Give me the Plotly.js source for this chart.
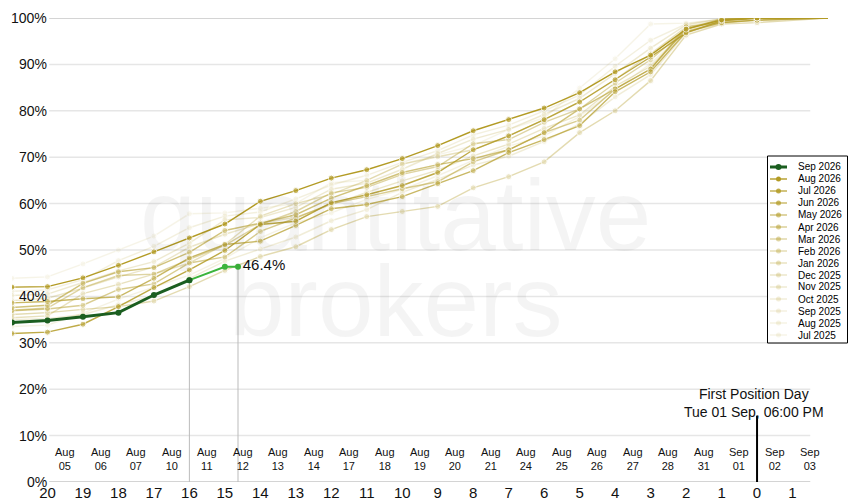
<!DOCTYPE html>
<html><head><meta charset="utf-8">
<script src="https://cdn.plot.ly/plotly-3.0.1.min.js"></script>
<style>html,body{margin:0;padding:0;background:#fff}#chart{width:850px;height:500px}</style>
</head><body><div id="chart"></div>
<script>
// ---- data ----
const days = [-21,-20,-19,-18,-17,-16,-15,-14,-13,-12,-11,-10,-9,-8,-7,-6,-5,-4,-3,-2,-1,0,2];
const tickDays = [-20,-19,-18,-17,-16,-15,-14,-13,-12,-11,-10,-9,-8,-7,-6,-5,-4,-3,-2,-1,0,1];
const tickLabels = ['20','19','18','17','16','15','14','13','12','11','10','9','8','7','6','5','4','3','2','1','0','1'];
const dateLabels = ['Aug 05','Aug 06','Aug 07','Aug 10','Aug 11','Aug 12','Aug 13','Aug 14','Aug 17','Aug 18','Aug 19',
  'Aug 20','Aug 21','Aug 24','Aug 25','Aug 26','Aug 27','Aug 28','Aug 31','Sep 01','Sep 02','Sep 03'];
const yTicks = [0,10,20,30,40,50,60,70,80,90,100];

const sep2026Days = [-21,-20,-19,-18,-17,-16];
const sep2026 = [34.4,34.8,35.6,36.5,40.3,43.5];
const liveDays = [-16,-15,-14.63];
const liveValues = [43.5,46.4,46.4];

const aug2026 = [42.0,42.1,44.0,46.7,49.6,52.6,55.6,60.5,62.8,65.5,67.3,69.7,72.5,75.7,78.1,80.6,83.9,88.4,92.0,97.6,99.6,100,100];
const jul2026 = [32.0,32.3,34.0,37.8,41.9,45.7,49.9,55.5,56.2,60.2,61.9,63.9,66.7,71.6,74.6,78.1,81.9,86.7,91.6,96.8,99.4,100,100];
const jun2026 = [38.6,38.9,39.5,39.9,43.9,48.3,51.2,51.9,55.3,58.9,59.8,61.5,64.3,67.1,71.0,73.8,76.8,84.1,88.4,97.0,99.0,99.5,100];
const may2026 = [37.6,38.1,42.8,45.3,46.2,49.5,54.2,55.8,57.6,61.2,63.9,66.7,68.4,69.7,71.6,75.3,80.4,84.7,89.0,97.6,99.8,100,100];
const apr2026 = [36.9,37.3,38.1,41.5,42.7,47.2,48.5,54.0,56.9,60.0,61.5,63.2,64.7,69.0,71.6,75.3,78.0,84.7,89.0,98.1,99.0,99.6,100];
const mar2026 = [37.0,37.5,41.9,44.5,44.8,48.0,51.0,55.5,58.3,62.3,63.5,66.3,68.0,72.9,73.8,77.5,80.4,86.0,91.0,97.6,99.5,100,100];
const feb2026 = [36.1,36.5,37.2,37.8,39.0,42.1,45.6,48.6,50.7,54.4,57.2,58.3,59.4,63.4,65.8,69.0,75.3,80.0,86.5,96.3,98.7,99.0,100];
const jan2026 = [35.4,35.8,40.6,42.6,44.8,47.2,51.2,57.3,60.0,62.0,65.0,68.5,70.1,71.6,74.6,78.1,81.9,86.7,92.3,98.1,99.5,100,100];
const dec2025 = [39.1,39.6,41.8,44.2,46.3,50.6,53.4,55.7,57.1,59.8,62.4,64.9,67.2,70.3,72.8,76.2,79.1,85.3,89.6,97.2,99.1,100,100];
const nov2025 = [40.2,40.5,43.0,45.5,47.5,51.5,56.5,57.0,59.2,63.1,64.4,67.4,70.8,73.9,76.0,79.2,82.7,88.0,93.5,98.5,99.8,100,100];
const oct2025 = [35.0,35.2,36.1,38.2,40.1,43.8,47.6,50.2,52.8,56.3,58.7,62.4,65.2,68.3,70.2,73.4,77.2,83.0,87.8,96.8,98.9,99.6,100];
const sep2025 = [41.1,41.4,43.6,47.7,50.8,54.8,57.3,58.2,61.0,64.0,66.1,68.9,71.4,74.8,76.9,80.0,83.4,89.6,95.2,98.7,99.8,100,100];
const aug2025 = [33.5,33.8,36.4,39.4,42.0,44.6,48.2,52.6,55.9,58.0,60.9,63.0,66.0,69.3,72.4,74.6,78.8,84.4,90.2,97.3,99.3,100,100];
const jul2025 = [43.9,44.2,47.0,50.0,53.0,57.8,58.0,59.0,60.0,64.5,65.0,68.5,70.5,72.5,76.0,78.5,84.9,91.2,98.7,98.9,99.8,100,100];

const seriesNames = ['Aug 2026','Jul 2026','Jun 2026','May 2026','Apr 2026','Mar 2026','Feb 2026','Jan 2026',
  'Dec 2025','Nov 2025','Oct 2025','Sep 2025','Aug 2025','Jul 2025'];
const seriesValues = [aug2026,jul2026,jun2026,may2026,apr2026,mar2026,feb2026,jan2026,dec2025,nov2025,oct2025,sep2025,aug2025,jul2025];
const currentName = 'Sep 2026';
const fpdText = 'First Position Day<br>Tue 01 Sep, 06:00 PM';

// ---- styles ----
const GOLD = '#b39b24';
const DARK = '#1b5e20';
const LIGHT = '#3cb43c';
const FONT = 'Arial, "Liberation Sans", Helvetica, sans-serif';
const opFor = i => Math.max(0.1, Math.pow(0.84, i));

// plot area in pixels (for legend placement in paper units)
const PL = 12, PR = 828, PT = 18, PB = 482;
const px2x = px => (px - PL) / (PR - PL);
const py2y = py => (PB - py) / (PB - PT);

const traces = [];
for (let i = seriesValues.length - 1; i >= 0; i--) {
  traces.push({
    x: days, y: seriesValues[i], name: seriesNames[i], type: 'scatter', mode: 'lines+markers',
    line: {color: GOLD, width: 1.4},
    marker: {color: GOLD, size: days.map(d => d > 1 ? 0 : 6)},
    opacity: opFor(i), showlegend: false, hoverinfo: 'skip'
  });
}
traces.push({
  x: liveDays, y: liveValues, type: 'scatter', mode: 'lines+markers+text',
  line: {color: LIGHT, width: 2}, marker: {color: LIGHT, size: 6},
  text: liveValues.map((v, i) => i === liveValues.length - 1 ? v.toFixed(1) + '%' : ''),
  textposition: 'middle right', textfont: {family: FONT, size: 15, color: '#111'},
  cliponaxis: false, showlegend: false, hoverinfo: 'skip'
});
traces.push({
  x: sep2026Days, y: sep2026, name: currentName, type: 'scatter', mode: 'lines+markers',
  line: {color: DARK, width: 3}, marker: {color: DARK, size: 6},
  showlegend: false, hoverinfo: 'skip'
});

const shapes = [];
const annotations = [];
// grid lines + y labels
yTicks.forEach(v => {
  const edge = (v === 0 || v === 100);
  shapes.push({type: 'line', xref: 'x', yref: 'y', x0: -19.95, x1: 1.5, y0: v, y1: v,
    line: {color: edge ? '#aaaaaa' : '#e6e6e6', width: edge ? 1.2 : 1.5}, layer: 'below'});
  annotations.push({x: -20, y: v, xref: 'x', yref: 'y', xanchor: 'right', yanchor: 'middle',
    text: v + '%', showarrow: false, xshift: 2, font: {family: FONT, size: 14, color: '#111'}});
});
// date labels
dateLabels.forEach((d, i) => {
  annotations.push({x: tickDays[i] + 0.5, y: 4.9, xref: 'x', yref: 'y', xanchor: 'center', yanchor: 'middle',
    text: d.replace(' ', '<br>'), showarrow: false, font: {family: FONT, size: 11, color: '#111'}});
});
// drop lines from last completed point and live point
const lastDoneX = sep2026Days[sep2026Days.length - 1], lastDoneY = sep2026[sep2026.length - 1];
const liveX = liveDays[liveDays.length - 1], liveY = liveValues[liveValues.length - 1];
[[lastDoneX, lastDoneY], [liveX, liveY]].forEach(([x, y]) => {
  shapes.push({type: 'line', xref: 'x', yref: 'y', x0: x, x1: x, y0: 0, y1: y,
    line: {color: '#bbbbbb', width: 1}, layer: 'below'});
});
// first position day marker
shapes.push({type: 'line', xref: 'x', yref: 'y', x0: 0, x1: 0, y0: 0, y1: 14.3,
  line: {color: '#000', width: 2}});
annotations.push({x: -0.1, y: 17.0, xref: 'x', yref: 'y', xanchor: 'center', yanchor: 'middle',
  text: fpdText, showarrow: false, align: 'center', font: {family: FONT, size: 14, color: '#111'}});
// watermark
annotations.push({x: -10.2, y: 57.5, xref: 'x', yref: 'y', text: 'quantitative', showarrow: false,
  font: {family: FONT, size: 100, color: 'rgba(0,0,0,0.045)'}});
annotations.push({x: -10.2, y: 39.0, xref: 'x', yref: 'y', text: 'brokers', showarrow: false,
  font: {family: FONT, size: 100, color: 'rgba(0,0,0,0.045)'}});

// manual legend
const legendNames = [currentName].concat(seriesNames);
shapes.push({type: 'rect', xref: 'paper', yref: 'paper', x0: px2x(767.5), x1: px2x(847.5), y0: py2y(156), y1: py2y(343),
  line: {color: '#000', width: 1}, fillcolor: '#fff', layer: 'above'});
legendNames.forEach((n, k) => {
  const py = 167 + 12 * k;
  const cur = k === 0;
  const col = cur ? DARK : GOLD;
  const op = cur ? 1 : opFor(k - 1);
  shapes.push({type: 'line', xref: 'paper', yref: 'paper', x0: px2x(770), x1: px2x(787), y0: py2y(py), y1: py2y(py),
    line: {color: col, width: cur ? 3 : 1.4}, opacity: op, layer: 'above'});
  const r = cur ? 3 : 2.5;
  shapes.push({type: 'circle', xref: 'paper', yref: 'paper', x0: px2x(778.5 - r), x1: px2x(778.5 + r),
    y0: py2y(py + r), y1: py2y(py - r), fillcolor: col, line: {width: 0}, opacity: op, layer: 'above'});
  annotations.push({x: px2x(796), y: py2y(py), xref: 'paper', yref: 'paper', xanchor: 'left', yanchor: 'middle',
    text: n, showarrow: false, font: {family: FONT, size: 10, color: '#000'}});
});

const layout = {
  width: 850, height: 500,
  margin: {l: PL, r: 850 - PR, t: PT, b: 500 - PB, pad: 0},
  paper_bgcolor: '#fff', plot_bgcolor: '#fff',
  showlegend: false,
  font: {family: FONT, color: '#111'},
  xaxis: {range: [-21, 2], tickvals: tickDays, ticktext: tickLabels, showgrid: false, zeroline: false,
    showline: false, ticks: '', tickfont: {family: FONT, size: 15, color: '#111'}, fixedrange: true},
  yaxis: {range: [0, 100], showgrid: false, zeroline: false, showline: false, showticklabels: false,
    ticks: '', fixedrange: true},
  shapes: shapes, annotations: annotations
};
Plotly.newPlot('chart', traces, layout, {displayModeBar: false, staticPlot: true});
</script></body></html>
